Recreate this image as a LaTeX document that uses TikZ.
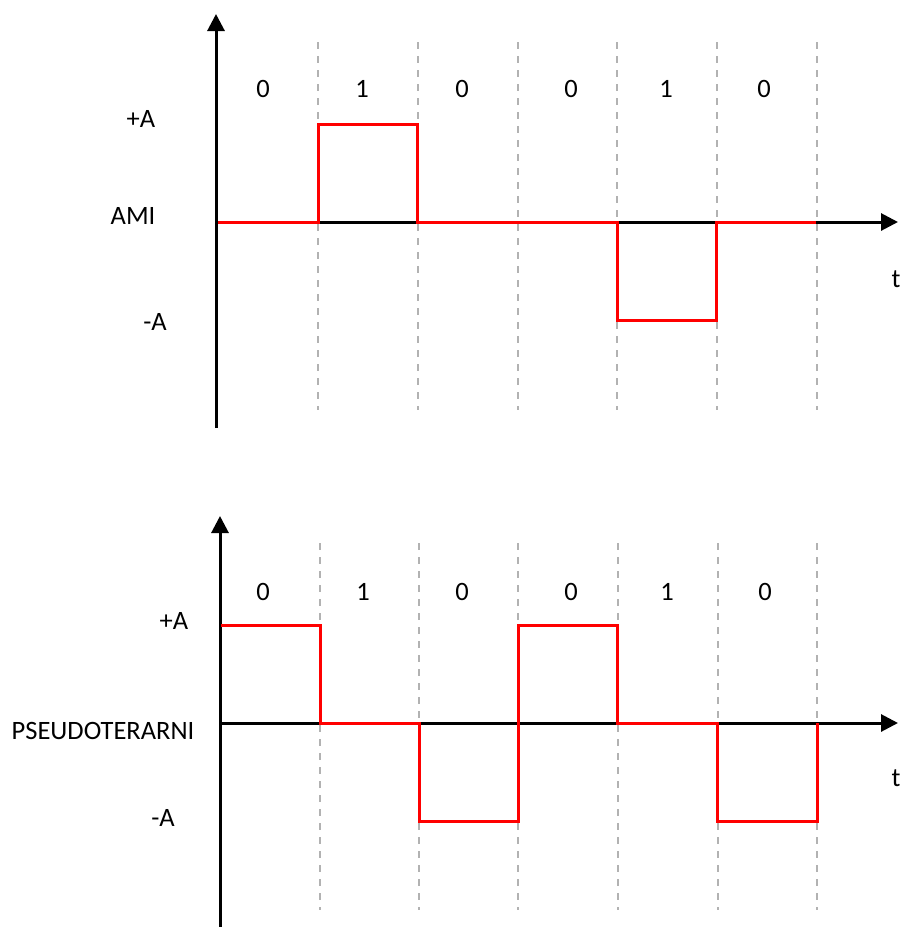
\documentclass[tikz,border=0pt]{standalone}
\usepackage{fontspec}
\setmainfont{Carlito}
\usetikzlibrary{arrows.meta}
\begin{document}
\begin{tikzpicture}[x=1pt,y=-1pt,
  axis/.style={line width=3pt,-{Triangle[length=17pt,width=17pt]}},
  grid/.style={line width=2pt,draw=gray!60,dash pattern=on 7pt off 7pt},
  sig/.style={line width=3pt,draw=red,line join=miter},
  lbl/.style={font=\fontsize{26.5}{30}\selectfont,inner sep=0pt}]
\useasboundingbox (0,0) rectangle (900,927);
% ---------- top: AMI ----------
\foreach \x [count=\i] in {318,418,518,617,717,817}
  \draw[grid] (\x,42) -- (\x,410);
\coordinate (ya1) at (216,428);
\coordinate (yb1) at (216,14);
\coordinate (xa1) at (216,222);
\coordinate (xb1) at (898,222);
\draw[axis] (ya1) -- (yb1);
\draw[axis] (xa1) -- (xb1);
\draw[sig] (218,222) -- (318,222) -- (318,124) -- (417,124) -- (417,222) -- (617,222) -- (617,320) -- (716,320) -- (716,222) -- (816,222);
\node[lbl] (b11) at (263,89) {0};
\node[lbl] (b12) at (362,89) {1};
\node[lbl] (b13) at (462,89) {0};
\node[lbl] (b14) at (571,89) {0};
\node[lbl] (b15) at (666,89) {1};
\node[lbl] (b16) at (764,89) {0};
\node[lbl] (pa1) at (141,119) {+A};
\node[lbl] (ami) at (133,216) {AMI};
\node[lbl] (ma1) at (155,322) {-A};
\node[lbl] (t1) at (896,279) {t};
% ---------- bottom: PSEUDOTERARNI ----------
\foreach \x [count=\i] in {320,419,518,618,718,817}
  \draw[grid] (\x,543) -- (\x,910);
\coordinate (ya2) at (220,927);
\coordinate (yb2) at (220,516);
\coordinate (xa2) at (220,723);
\coordinate (xb2) at (898,723);
\draw[axis] (ya2) -- (yb2);
\draw[axis] (xa2) -- (xb2);
\draw[sig] (221,625) -- (320,625) -- (320,723) -- (419,723) -- (419,821) -- (518,821) -- (518,625) -- (617,625) -- (617,723) -- (717,723) -- (717,821) -- (817,821) -- (817,723);
\node[lbl] (b21) at (263,592) {0};
\node[lbl] (b22) at (363,592) {1};
\node[lbl] (b23) at (462,592) {0};
\node[lbl] (b24) at (571,592) {0};
\node[lbl] (b25) at (667,592) {1};
\node[lbl] (b26) at (765,592) {0};
\node[lbl] (pa2) at (174,621) {+A};
\node[lbl] (pst) at (103,731) {PSEUDOTERARNI};
\node[lbl] (ma2) at (163,818) {-A};
\node[lbl] (t2) at (896,778) {t};
\end{tikzpicture}
\end{document}
